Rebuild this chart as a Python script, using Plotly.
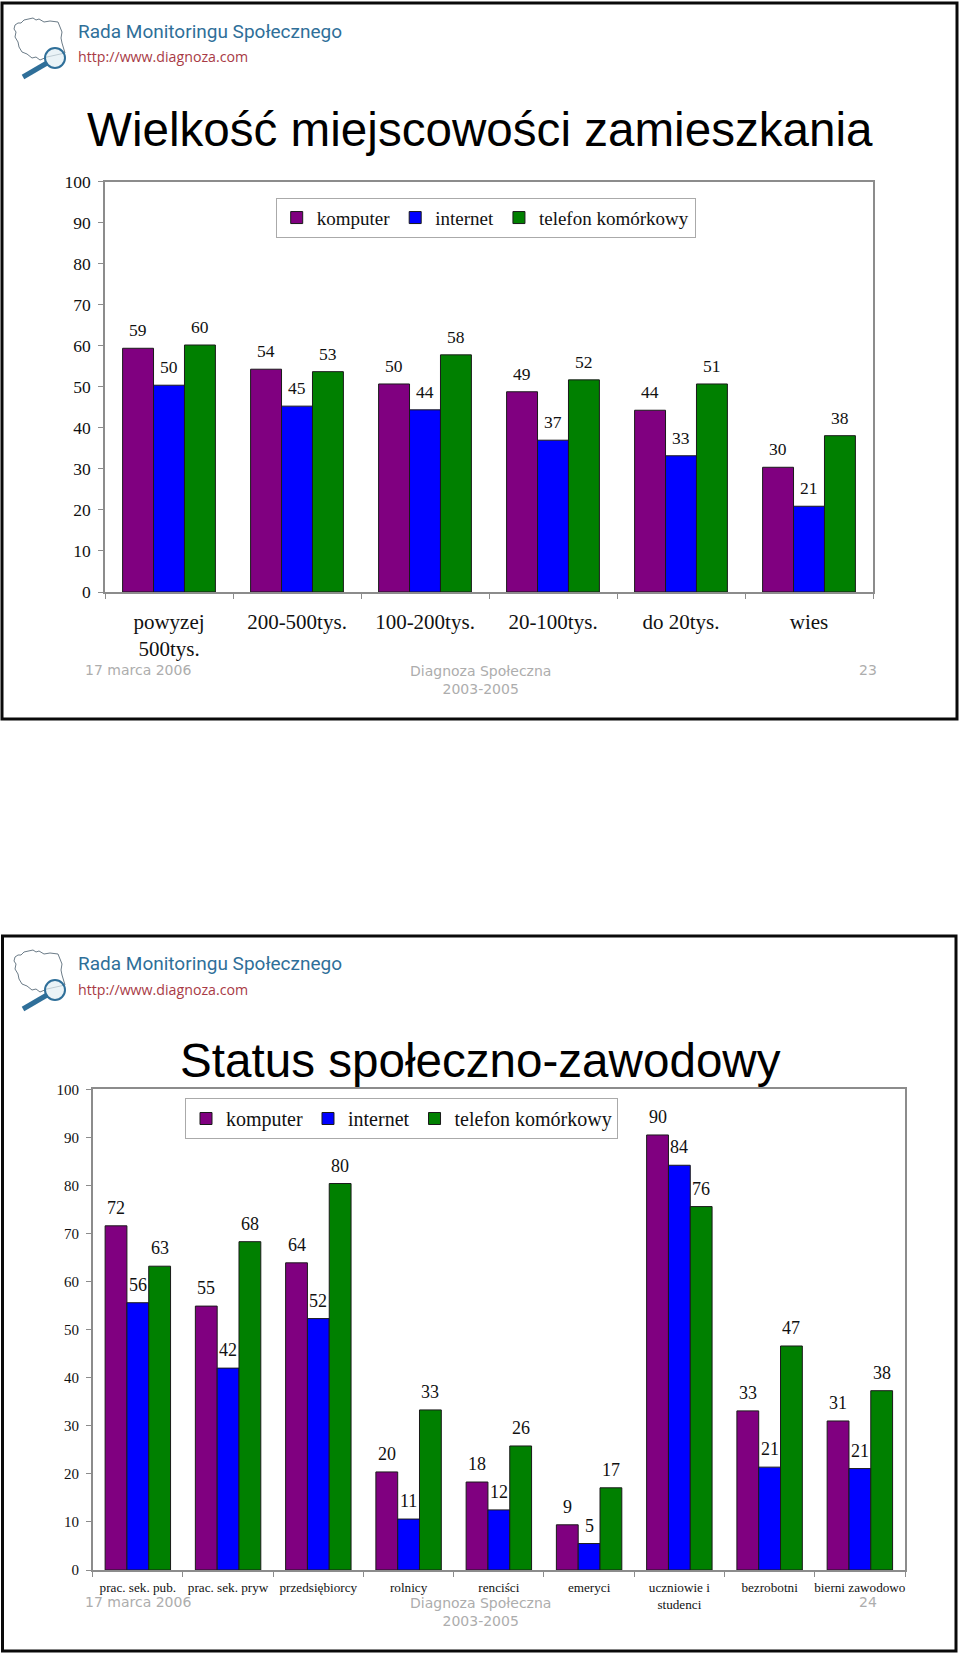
import plotly.graph_objects as go

W, H = 960, 1654

series_names = ["komputer", "internet", "telefon komórkowy"]
series_colors = ["#800080", "#0000FF", "#008000"]

title_1 = "Wielkość miejscowości zamieszkania"
cats_1 = ["powyzej<br>500tys.", "200-500tys.", "100-200tys.", "20-100tys.", "do 20tys.", "wies"]
komputer_1 = [59.4, 54.3, 50.7, 48.8, 44.3, 30.4]
internet_1 = [50.4, 45.3, 44.4, 37.0, 33.2, 20.9]
telefon_1 = [60.2, 53.7, 57.8, 51.7, 50.7, 38.1]
labels_k_1 = [59, 54, 50, 49, 44, 30]
labels_i_1 = [50, 45, 44, 37, 33, 21]
labels_t_1 = [60, 53, 58, 52, 51, 38]

title_2 = "Status społeczno-zawodowy"
cats_2 = ["prac. sek. pub.", "prac. sek. pryw", "przedsiębiorcy", "rolnicy", "renciści",
          "emeryci", "uczniowie i<br>studenci", "bezrobotni", "bierni zawodowo"]
komputer_2 = [71.6, 54.9, 63.9, 20.4, 18.3, 9.4, 90.5, 33.1, 31.0]
internet_2 = [55.6, 42.0, 52.3, 10.6, 12.5, 5.5, 84.2, 21.4, 21.1]
telefon_2 = [63.2, 68.3, 80.4, 33.3, 25.8, 17.1, 75.6, 46.6, 37.3]
labels_k_2 = [72, 55, 64, 20, 18, 9, 90, 33, 31]
labels_i_2 = [56, 42, 52, 11, 12, 5, 84, 21, 21]
labels_t_2 = [63, 68, 80, 33, 26, 17, 76, 47, 38]

y_ticks = [0, 10, 20, 30, 40, 50, 60, 70, 80, 90, 100]
footer_date = "17 marca 2006"
footer_org = "Diagnoza Społeczna<br>2003-2005"
page_1 = "23"
page_2 = "24"
logo_name = "Rada Monitoringu Społecznego"
logo_url = "http://www.diagnoza.com"

SERIF = "Liberation Serif"
GAP = 0.275


def X(px):
    return px / W


def Y(px):
    return 1 - px / H


fig = go.Figure()
annotations = []
shapes = []


def add_panel(cats, series, labels, xa, ya, legend, x_dom, y_dom, tick_size, cat_size,
              label_size, leg_xy, standoff, leg_size):
    xname = "x" if xa == 1 else f"x{xa}"
    yname = "y" if ya == 1 else f"y{ya}"
    for name, color, vals in zip(series_names, series_colors, series):
        fig.add_trace(go.Bar(
            x=cats, y=vals, name=name, xaxis=xname, yaxis=yname, legend=legend,
            marker=dict(color=color, line=dict(color="#1a1a1a", width=1)),
            hoverinfo="skip",
        ))
    w = (1 - GAP) / 3
    for j, labs in enumerate(labels):
        vals = series[j]
        for i, lab in enumerate(labs):
            annotations.append(dict(
                x=i + (j - 1) * w, y=vals[i], xref=xname, yref=yname, text=str(lab),
                showarrow=False, yanchor="bottom", yshift=6,
                font=dict(family=SERIF, size=label_size, color="#111"),
            ))
    axis_common = dict(showgrid=False, zeroline=False, showline=True, linecolor="#8c8c8c",
                       linewidth=1.5, mirror=True, ticks="outside", tickcolor="#8c8c8c",
                       ticklen=5, tickwidth=1, automargin=False)
    xkey = "xaxis" if xa == 1 else f"xaxis{xa}"
    ykey = "yaxis" if ya == 1 else f"yaxis{ya}"
    fig.update_layout({
        xkey: dict(domain=[X(x_dom[0]), X(x_dom[1])], anchor=yname, type="category",
                   tickson="boundaries", tickangle=0, ticklabelstandoff=standoff[0],
                   tickfont=dict(family=SERIF, size=cat_size, color="#111"), **axis_common),
        ykey: dict(domain=[Y(y_dom[1]), Y(y_dom[0])], anchor=xname, range=[0, 100],
                   tickmode="array", tickvals=y_ticks, ticklabelstandoff=standoff[1],
                   tickfont=dict(family=SERIF, size=tick_size, color="#111"), **axis_common),
        legend: dict(orientation="h", x=X(leg_xy[0]), y=Y(leg_xy[1]), xanchor="left", yanchor="top",
                     bordercolor="#aaaaaa", borderwidth=1, bgcolor="white",
                     font=dict(family=SERIF, size=leg_size, color="#111"),
                     itemwidth=30, traceorder="normal"),
    })


def add_chrome(top, bottom, left, right, title, title_y, logo_dy, foot_y, page):
    shapes.append(dict(type="rect", xref="paper", yref="paper", x0=X(left), x1=X(right),
                       y0=Y(bottom), y1=Y(top), line=dict(color="#0a0a0a", width=3),
                       fillcolor="rgba(0,0,0,0)", layer="below"))
    annotations.append(dict(x=0.5, y=Y(title_y), xref="paper", yref="paper", text=title, showarrow=False,
                            xanchor="center", yanchor="middle",
                            font=dict(family="Liberation Sans", size=47.6, color="#000")))
    annotations.append(dict(x=X(76), y=Y(32 + logo_dy), xref="paper", yref="paper", text=logo_name,
                            showarrow=False, xanchor="left", yanchor="middle",
                            font=dict(family="Roboto", size=19, color="#2f6f99")))
    annotations.append(dict(x=X(76), y=Y(57 + logo_dy), xref="paper", yref="paper", text=logo_url,
                            showarrow=False, xanchor="left", yanchor="middle",
                            font=dict(family="Open Sans", size=14.2, color="#a83a45")))
    grey = "#adadad"
    annotations.append(dict(x=X(83), y=Y(foot_y), xref="paper", yref="paper", text=footer_date,
                            showarrow=False, xanchor="left", yanchor="middle",
                            font=dict(family="DejaVu Sans", size=14, color=grey)))
    annotations.append(dict(x=X(480), y=Y(foot_y - 9), xref="paper", yref="paper", text=footer_org,
                            showarrow=False, xanchor="center", yanchor="top", align="center",
                            font=dict(family="DejaVu Sans", size=14, color=grey)))
    annotations.append(dict(x=X(868), y=Y(foot_y), xref="paper", yref="paper", text=page,
                            showarrow=False, xanchor="center", yanchor="middle",
                            font=dict(family="DejaVu Sans", size=14, color=grey)))
    # Poland outline + magnifier logo (decoration only)
    pts = [(15, 25), (18, 23), (21, 23), (24, 20), (33, 18), (36, 20), (39, 19), (44, 22), (50, 21), (58, 22),
           (60, 27), (62, 32), (61, 38), (62, 43), (65, 53), (47, 57), (40, 60), (36, 57), (32, 58), (27, 54),
           (22, 52), (19, 47), (18, 42), (15, 37), (16, 32), (14, 29)]
    d = "M " + " L ".join(f"{X(a)},{Y(b + logo_dy)}" for a, b in pts) + " Z"
    shapes.append(dict(type="path", xref="paper", yref="paper", path=d,
                       line=dict(color="#6c7c88", width=1), fillcolor="white"))
    shapes.append(dict(type="circle", xref="paper", yref="paper", x0=X(45), x1=X(65),
                       y0=Y(68 + logo_dy), y1=Y(48 + logo_dy),
                       line=dict(color="#2f6f99", width=2), fillcolor="rgba(225,238,244,0.7)"))
    shapes.append(dict(type="line", xref="paper", yref="paper", x0=X(23), x1=X(47),
                       y0=Y(77 + logo_dy), y1=Y(63 + logo_dy), line=dict(color="#2f6f99", width=5)))


add_panel(cats_1, [komputer_1, internet_1, telefon_1], [labels_k_1, labels_i_1, labels_t_1],
          1, 1, "legend", (105, 873), (181.7, 592), 17.5, 21, 17.5, (275.7, 197.7), (10, 4), 19)
add_panel(cats_2, [komputer_2, internet_2, telefon_2], [labels_k_2, labels_i_2, labels_t_2],
          2, 2, "legend2", (92.7, 905), (1089.3, 1570), 15, 13.2, 18, (185, 1098), (4, 4), 20)
add_chrome(3, 719, 2, 957, title_1, 129, 0, 670, page_1)
add_chrome(936, 1651, 2.5, 956, title_2, 1060, 2 + 930, 1602, page_2)

fig.update_layout(
    width=W, height=H, margin=dict(l=0, r=0, t=0, b=0, autoexpand=False),
    paper_bgcolor="white", plot_bgcolor="white",
    barmode="group", bargap=GAP, bargroupgap=0,
    annotations=annotations, shapes=shapes,
)
fig.write_html("out.html", config={"displayModeBar": False},
               post_script="document.body.style.margin='0';document.body.style.overflow='hidden';")
